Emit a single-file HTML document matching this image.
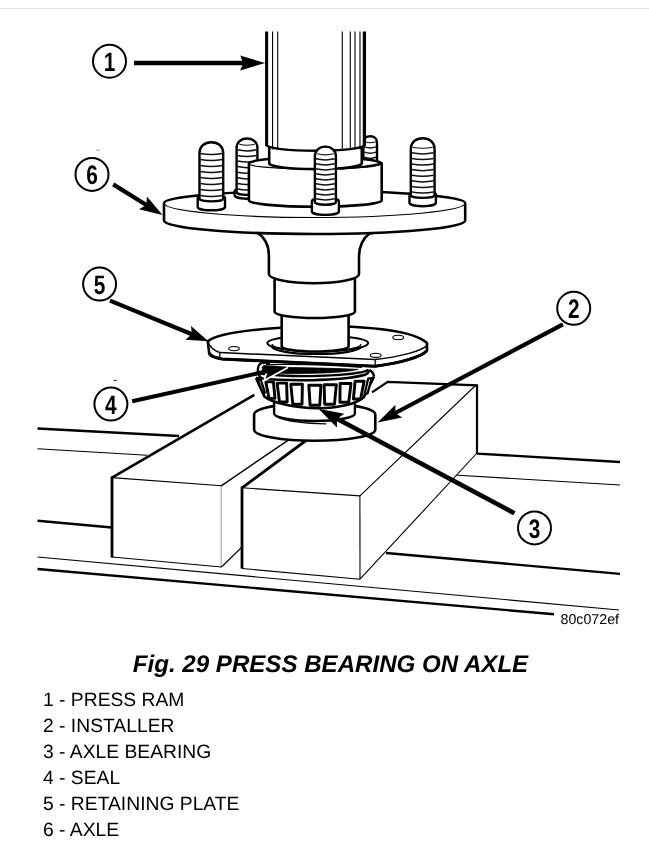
<!DOCTYPE html>
<html lang="en">
<head>
<meta charset="utf-8">
<title>Fig. 29 PRESS BEARING ON AXLE</title>
<style>
html,body{margin:0;padding:0;background:#fff;}
body{width:649px;height:847px;position:relative;overflow:hidden;-webkit-font-smoothing:antialiased;text-rendering:geometricPrecision;font-family:"Liberation Sans",Arial,sans-serif;color:#000;}
.rule{position:absolute;left:0;top:8px;width:649px;height:1px;background:#e2e2e2;}
.title{will-change:transform;position:absolute;left:6px;width:649px;top:651px;text-align:center;font-weight:bold;font-style:italic;font-size:24.1px;line-height:28px;white-space:nowrap;margin:0;}
.legend{will-change:transform;position:absolute;left:43px;top:687.7px;margin:0;padding:0;list-style:none;font-size:19.3px;line-height:25.9px;white-space:nowrap;}
</style>
</head>
<body>
<div class="rule"></div>
<svg width="649" height="640" viewBox="0 0 649 640" style="position:absolute;left:0;top:0;will-change:transform" font-family="Liberation Sans, Arial, sans-serif">
<line x1="37.5" y1="428.5" x2="179" y2="436" stroke="#000" stroke-width="2.4" />
<line x1="37.5" y1="448.8" x2="147" y2="455.3" stroke="#000" stroke-width="1.1" />
<line x1="37.5" y1="520.7" x2="112" y2="527.5" stroke="#000" stroke-width="2.4" />
<line x1="37.5" y1="557" x2="619" y2="610" stroke="#000" stroke-width="1.1" />
<line x1="37.5" y1="569" x2="554" y2="614.2" stroke="#000" stroke-width="2.4" />
<line x1="477" y1="453.6" x2="620" y2="462" stroke="#000" stroke-width="2.4" />
<line x1="454" y1="475" x2="620" y2="485" stroke="#000" stroke-width="1.1" />
<line x1="386" y1="553" x2="620" y2="573.9" stroke="#000" stroke-width="2.4" />
<path d="M112,477.6 L254.3,394.9 L300,400 L221.5,485.8 Z" stroke="none" stroke-width="1" fill="#fff" />
<path d="M112,477.6 L221.5,485.8 L221.5,567 L112,557 Z" stroke="none" stroke-width="1" fill="#fff" />
<path d="M221.5,485.8 L290,425 L290,500 L221.5,567 Z" stroke="none" stroke-width="1" fill="#fff" />
<line x1="112" y1="477.6" x2="254.3" y2="394.9" stroke="#000" stroke-width="2.6" />
<line x1="112" y1="476.5" x2="112" y2="557.5" stroke="#000" stroke-width="2.8" />
<line x1="112" y1="477.6" x2="221.5" y2="485.8" stroke="#000" stroke-width="1.1" />
<line x1="221.2" y1="485.8" x2="221.2" y2="567.4" stroke="#9a9a9a" stroke-width="1" />
<line x1="112" y1="557" x2="221.5" y2="567" stroke="#000" stroke-width="1.1" />
<line x1="221.2" y1="485.8" x2="292" y2="437.6" stroke="#000" stroke-width="1.4" />
<line x1="221.5" y1="567" x2="242" y2="547" stroke="#000" stroke-width="1.1" />
<path d="M242,487.8 L306,440 L387.7,381.8 L477,385.4 L359.9,495.9 Z" stroke="none" stroke-width="1" fill="#fff" />
<path d="M242,487.8 L359.9,495.9 L360,579.2 L241.8,568.5 Z" stroke="none" stroke-width="1" fill="#fff" />
<path d="M359.9,495.9 L477,385.4 L477,453 L360,579.2 Z" stroke="none" stroke-width="1" fill="#fff" />
<line x1="242" y1="486.8" x2="242" y2="568.5" stroke="#000" stroke-width="2.8" />
<line x1="242" y1="487.8" x2="306" y2="440.5" stroke="#000" stroke-width="2.8" />
<line x1="242" y1="487.8" x2="359.9" y2="495.9" stroke="#000" stroke-width="1.1" />
<line x1="359.9" y1="495.9" x2="360" y2="579.2" stroke="#000" stroke-width="1.1" />
<line x1="241.8" y1="568.5" x2="360" y2="579.2" stroke="#000" stroke-width="1.1" />
<line x1="359.9" y1="495.9" x2="475.5" y2="385.5" stroke="#000" stroke-width="1.1" />
<line x1="360" y1="579.2" x2="477" y2="453" stroke="#000" stroke-width="1.1" />
<path d="M372,392.3 L387.7,381.8 L477,385.4 L477,453.6" stroke="#000" stroke-width="2.2" fill="none" />
<path d="M254.1,414.5 L254.1,429.8 A60.6,11 0 0 0 375.3,429.8 L375.3,414.5 A60.6,11.5 0 0 0 254.1,414.5 Z" stroke="#000" stroke-width="2.6" fill="#fff" />
<path d="M277.5,417.2 C285,420.6 303,423.6 326.3,423.8" stroke="#000" stroke-width="1.3" fill="none" />
<path d="M274.1,398 L274.1,413.5 A40.4,7.5 0 0 0 354.9,413.5 L354.9,398 Z" stroke="#000" stroke-width="2.4" fill="#fff" />
<path d="M256,378 L264.5,396.6 C273,403 295,408.3 318,408.3 C338,408.3 356,404 363.8,397.2 L374,376.6 L370,368 L258,368 Z" stroke="none" stroke-width="0" fill="#fff" />
<path d="M256,378 L264.5,396.6 C273,403 295,408.3 318,408.3 C338,408.3 356,404 363.8,397.2 L374,376.6" stroke="#000" stroke-width="2.6" fill="none" />
<path d="M265.8,381.9 L273.4,381.9 L275.0,398.4 L269.0,398.4 Z" stroke="#000" stroke-width="2.9" fill="#fff" stroke-linejoin="round"/>
<path d="M277.1,383.1 L286.6,383.1 L287.2,402 L279.5,402 Z" stroke="#000" stroke-width="2.9" fill="#fff" stroke-linejoin="round"/>
<path d="M290.8,384.3 L302.4,384.3 L302.0,404.2 L292.8,404.2 Z" stroke="#000" stroke-width="2.9" fill="#fff" stroke-linejoin="round"/>
<path d="M308.8,385.3 L320.9,385.3 L319.8,405.2 L310.1,405.2 Z" stroke="#000" stroke-width="2.9" fill="#fff" stroke-linejoin="round"/>
<path d="M324.1,384.8 L336.3,384.8 L334.5,404.2 L324.7,404.2 Z" stroke="#000" stroke-width="2.9" fill="#fff" stroke-linejoin="round"/>
<path d="M340.1,383.5 L351.0,383.5 L348.7,402.2 L339.9,402.2 Z" stroke="#000" stroke-width="2.9" fill="#fff" stroke-linejoin="round"/>
<path d="M355.1,381.2 L364.1,381.2 L360.6,399 L353.4,399 Z" stroke="#000" stroke-width="2.9" fill="#fff" stroke-linejoin="round"/>
<path d="M257.8,380.2 L260.8,379.8 L265,392.6 L263,393.6 Z" stroke="#000" stroke-width="2.2" fill="#fff" stroke-linejoin="round"/>
<path d="M368.2,378.6 L371.6,378.2 L367.6,393.4 L364.6,394.2 Z" stroke="#000" stroke-width="2.2" fill="#fff" stroke-linejoin="round"/>
<path d="M257.4,378.5 C257,372 257,366 259.5,363.5 L268,361 L368,362 C371,366 374.2,372 374.3,375.5 C360,380.3 338,381.6 314,381.4 C290,381.2 268,380.5 257.4,378.5 Z" stroke="none" stroke-width="0" fill="#fff" />
<path d="M262,378.5 C257.2,376 256.6,366.5 260.5,363.6 C263,362 267,362.6 270,363.6" stroke="#000" stroke-width="2.4" fill="none" />
<path d="M262,366.8 C285,367.6 320,367.6 358,369.4 C340,373.6 300,374 263,373 Z" stroke="#000" stroke-width="0.8" fill="#000" />
<path d="M266,364.6 C295,364.2 335,365 362,367.4" stroke="#000" stroke-width="1.2" fill="none" />
<path d="M259,373.5 C285,376.8 335,377.4 362,372.2 C365,371.4 367,370.6 368.5,369.6" stroke="#000" stroke-width="2.3" fill="none" />
<path d="M256,378 C285,381.2 340,381.6 365,374.8 C367.5,373.6 369,372 369.6,370.2" stroke="#000" stroke-width="2.5" fill="none" />
<path d="M369.4,369.8 C372,371.5 373.8,374 374,376.6" stroke="#000" stroke-width="2.4" fill="none" />
<path d="M207.8,341.5 C215,334 250,328.5 313,326 C380,326 415,332 427,343 L427,350.3 C422,357 400,363 375.2,366.3 L222,359 C214,357.5 209.5,355.5 209.2,353.5 Z" stroke="#000" stroke-width="2.6" fill="#fff" />
<path d="M207.8,342 C210,347 214,350.8 220,352.6 L375.2,359.4 C400,357 421,351 427,345.6" stroke="#000" stroke-width="1.5" fill="none" />
<line x1="375.2" y1="359.4" x2="375.2" y2="366.3" stroke="#000" stroke-width="1.3" />
<line x1="219.8" y1="352.8" x2="219.8" y2="358.4" stroke="#000" stroke-width="1.3" />
<path d="M209.4,353 C210.5,355.8 215,357.8 222,359 L375.2,366.3 C400,363 422,357 427,350.6" stroke="#000" stroke-width="3.1" fill="none" />
<path d="M267.3,343 A50.4,8.5 0 0 0 368.2,343 A50.4,7.5 0 0 0 267.3,343 Z" stroke="#000" stroke-width="2" fill="#fff" />
<path d="M272,344 A44.5,7.5 0 0 0 361,344" stroke="#000" stroke-width="1.3" fill="none" />
<path d="M272,346.5 A44.5,7.5 0 0 0 361,346.5" stroke="#000" stroke-width="2.2" fill="none" />
<ellipse cx="234" cy="348.6" rx="5.3" ry="2.1" fill="#fff" stroke="#000" stroke-width="1.1"/>
<ellipse cx="398.2" cy="337.4" rx="5.4" ry="2.1" fill="#fff" stroke="#000" stroke-width="1.1"/>
<ellipse cx="375.7" cy="355.3" rx="5.4" ry="2.1" fill="#fff" stroke="#000" stroke-width="1.1"/>
<path d="M281.7,314 L281.7,346.3 A33.5,5.5 0 0 0 348.6,346.3 L348.6,314 Z" stroke="#000" stroke-width="2.6" fill="#fff" />
<path d="M274.6,276 L274.6,311.8 A40.2,6.5 0 0 0 354.9,311.8 L354.9,276 Z" stroke="#000" stroke-width="2.6" fill="#fff" />
<path d="M200,225 L257,232.5 C264.5,237 268.9,245 268.9,256 L268.9,274 A45,9.3 0 0 0 359,274 L359,257 C359,247 362,239 369.5,233.5 L430,225 Z" stroke="#000" stroke-width="2.6" fill="#fff" />
<path d="M164.00000000000003,203 A150.6,12 0 0 1 465.20000000000005,203 L465.20000000000005,220.5 A150.6,13.5 0 0 1 164.00000000000003,220.5 Z" stroke="none" stroke-width="0" fill="#fff" />
<path d="M164.00000000000003,203 L164.00000000000003,220.5 A150.6,13.5 0 0 0 465.20000000000005,220.5 L465.20000000000005,203" stroke="#000" stroke-width="2.6" fill="none" />
<path d="M164.00000000000003,203 A150.6,12 0 0 1 465.20000000000005,203" stroke="#000" stroke-width="2.4" fill="none" />
<path d="M164.00000000000003,203 A150.6,14.5 0 0 0 465.20000000000005,203" stroke="#000" stroke-width="1.2" fill="none" />
<g>
<path d="M234.6,191.5 L234.6,195.29999999999998 A12.399999999999991,3.4 0 0 0 259.4,195.29999999999998 L259.4,191.5 A12.399999999999991,3.4 0 0 0 234.6,191.5 Z" stroke="#000" stroke-width="2.4" fill="#fff" />
<path d="M236.6,192.5 L236.6,147.85999999999999 C236.6,142.4 241.0,138.5 247.0,138.5 C253.0,138.5 257.4,142.4 257.4,147.85999999999999 L257.4,192.5 A10.399999999999991,2.4 0 0 1 236.6,192.5 Z" stroke="#000" stroke-width="2.4" fill="#fff" />
<path d="M237.6,189.0 Q247.0,191.2 256.4,189.0" stroke="#111" stroke-width="1.5" fill="none" />
<path d="M237.6,183.4 Q247.0,185.6 256.4,183.4" stroke="#111" stroke-width="1.5" fill="none" />
<path d="M237.6,177.8 Q247.0,180.0 256.4,177.8" stroke="#111" stroke-width="1.5" fill="none" />
<path d="M237.6,172.2 Q247.0,174.4 256.4,172.2" stroke="#111" stroke-width="1.5" fill="none" />
<path d="M237.6,166.6 Q247.0,168.8 256.4,166.6" stroke="#111" stroke-width="1.5" fill="none" />
<path d="M237.6,161.0 Q247.0,163.2 256.4,161.0" stroke="#111" stroke-width="1.5" fill="none" />
<path d="M237.6,155.4 Q247.0,157.6 256.4,155.4" stroke="#111" stroke-width="1.5" fill="none" />
<path d="M237.6,149.8 Q247.0,152.0 256.4,149.8" stroke="#111" stroke-width="1.5" fill="none" />
<path d="M239.4,144.2 Q247.0,146.4 254.6,144.2" stroke="#111" stroke-width="1.1" fill="none" />
</g>
<g>
<path d="M361.9,191 L361.9,193.6 A8.300000000000011,3.4 0 0 0 378.5,193.6 L378.5,191 A8.300000000000011,3.4 0 0 0 361.9,191 Z" stroke="#000" stroke-width="2.4" fill="#fff" />
<path d="M363.4,192 L363.4,142.32 C363.4,138.8 366.3,136.2 370.2,136.2 C374.1,136.2 377,138.8 377,142.32 L377,192 A6.800000000000011,2.4 0 0 1 363.4,192 Z" stroke="#000" stroke-width="2.4" fill="#fff" />
<path d="M364.4,188.5 Q370.2,190.7 376.0,188.5" stroke="#111" stroke-width="1.5" fill="none" />
<path d="M364.4,183.3 Q370.2,185.5 376.0,183.3" stroke="#111" stroke-width="1.5" fill="none" />
<path d="M364.4,178.1 Q370.2,180.3 376.0,178.1" stroke="#111" stroke-width="1.5" fill="none" />
<path d="M364.4,172.9 Q370.2,175.1 376.0,172.9" stroke="#111" stroke-width="1.5" fill="none" />
<path d="M364.4,167.7 Q370.2,169.9 376.0,167.7" stroke="#111" stroke-width="1.5" fill="none" />
<path d="M364.4,162.5 Q370.2,164.7 376.0,162.5" stroke="#111" stroke-width="1.5" fill="none" />
<path d="M364.4,157.3 Q370.2,159.5 376.0,157.3" stroke="#111" stroke-width="1.5" fill="none" />
<path d="M364.4,152.1 Q370.2,154.3 376.0,152.1" stroke="#111" stroke-width="1.5" fill="none" />
<path d="M364.4,146.9 Q370.2,149.1 376.0,146.9" stroke="#111" stroke-width="1.5" fill="none" />
<path d="M364.7,141.7 Q370.2,143.9 375.7,141.7" stroke="#111" stroke-width="1.1" fill="none" />
</g>
<path d="M248.9,163.5 L248.9,200.4 A66.39999999999999,6.3 0 0 0 381.7,200.4 L381.7,163.5 A66.39999999999999,6.3 0 0 0 248.9,163.5 Z" stroke="#000" stroke-width="2.6" fill="#fff" />
<path d="M248.9,163.5 A66.39999999999999,5.6 0 0 0 381.7,163.5" stroke="#000" stroke-width="1.3" fill="none" />
<path d="M340,168.7 Q366,167.2 381.7,163.5" stroke="#000" stroke-width="2.2" fill="none" />
<path d="M269.2,140 L269.2,163.4 A46.3,5.7 0 0 0 361.8,163.4 L361.8,140 Z" stroke="#000" stroke-width="2.6" fill="#fff" />
<path d="M266.6,31 L266.6,145 A48.9,5.8 0 0 0 364.4,145 L364.4,31 Z" stroke="none" stroke-width="0" fill="#fff" />
<path d="M266.6,145 A48.9,5.8 0 0 0 364.4,145" stroke="#000" stroke-width="2.4" fill="none" />
<line x1="266.6" y1="31.5" x2="266.6" y2="146" stroke="#000" stroke-width="3.1" />
<line x1="364.4" y1="31.5" x2="364.4" y2="146" stroke="#000" stroke-width="3.3" />
<line x1="272.6" y1="31.5" x2="272.6" y2="149.5" stroke="#000" stroke-width="1.1" />
<line x1="277.7" y1="31.5" x2="277.7" y2="149.5" stroke="#000" stroke-width="1.1" />
<line x1="342.3" y1="31.5" x2="342.3" y2="149.5" stroke="#000" stroke-width="1.1" />
<line x1="350.3" y1="31.5" x2="350.3" y2="149.5" stroke="#000" stroke-width="1.1" />
<line x1="355" y1="31.5" x2="355" y2="149.5" stroke="#000" stroke-width="1.1" />
<line x1="360" y1="31.5" x2="360" y2="149.5" stroke="#000" stroke-width="1.1" />
<g>
<path d="M197.7,198 L197.7,206.9 A13.650000000000006,3.4 0 0 0 225.0,206.9 L225.0,198 A13.650000000000006,3.4 0 0 0 197.7,198 Z" stroke="#000" stroke-width="2.4" fill="#fff" />
<path d="M199.5,199 L199.5,152.86499999999998 C199.5,146.7 204.5,142.2 211.35,142.2 C218.2,142.2 223.2,146.7 223.2,152.86499999999998 L223.2,199 A11.849999999999994,2.4 0 0 1 199.5,199 Z" stroke="#000" stroke-width="2.4" fill="#fff" />
<path d="M200.5,195.5 Q211.35,197.7 222.2,195.5" stroke="#111" stroke-width="1.5" fill="none" />
<path d="M200.5,189.5 Q211.35,191.7 222.2,189.5" stroke="#111" stroke-width="1.5" fill="none" />
<path d="M200.5,183.5 Q211.35,185.7 222.2,183.5" stroke="#111" stroke-width="1.5" fill="none" />
<path d="M200.5,177.5 Q211.35,179.7 222.2,177.5" stroke="#111" stroke-width="1.5" fill="none" />
<path d="M200.5,171.5 Q211.35,173.7 222.2,171.5" stroke="#111" stroke-width="1.5" fill="none" />
<path d="M200.5,165.5 Q211.35,167.7 222.2,165.5" stroke="#111" stroke-width="1.5" fill="none" />
<path d="M200.5,159.5 Q211.35,161.7 222.2,159.5" stroke="#111" stroke-width="1.5" fill="none" />
<path d="M200.5,153.5 Q211.35,155.7 222.2,153.5" stroke="#111" stroke-width="1.5" fill="none" />
</g>
<g>
<path d="M311.9,201.3 L311.9,211.5 A13.5,3.4 0 0 0 338.9,211.5 L338.9,201.3 A13.5,3.4 0 0 0 311.9,201.3 Z" stroke="#000" stroke-width="2.4" fill="#fff" />
<path d="M314.9,202.3 L314.9,156.04999999999998 C314.9,150.6 319.3,146.6 325.4,146.6 C331.5,146.6 335.9,150.6 335.9,156.04999999999998 L335.9,202.3 A10.5,2.4 0 0 1 314.9,202.3 Z" stroke="#000" stroke-width="2.4" fill="#fff" />
<path d="M315.9,198.8 Q325.4,201.0 334.9,198.8" stroke="#111" stroke-width="1.5" fill="none" />
<path d="M315.9,193.8 Q325.4,196.0 334.9,193.8" stroke="#111" stroke-width="1.5" fill="none" />
<path d="M315.9,188.8 Q325.4,191.0 334.9,188.8" stroke="#111" stroke-width="1.5" fill="none" />
<path d="M315.9,183.8 Q325.4,186.0 334.9,183.8" stroke="#111" stroke-width="1.5" fill="none" />
<path d="M315.9,178.8 Q325.4,181.0 334.9,178.8" stroke="#111" stroke-width="1.5" fill="none" />
<path d="M315.9,173.8 Q325.4,176.0 334.9,173.8" stroke="#111" stroke-width="1.5" fill="none" />
<path d="M315.9,168.8 Q325.4,171.0 334.9,168.8" stroke="#111" stroke-width="1.5" fill="none" />
<path d="M315.9,163.8 Q325.4,166.0 334.9,163.8" stroke="#111" stroke-width="1.5" fill="none" />
<path d="M315.9,158.8 Q325.4,161.0 334.9,158.8" stroke="#111" stroke-width="1.5" fill="none" />
<path d="M317.0,153.8 Q325.4,156.0 333.8,153.8" stroke="#111" stroke-width="1.1" fill="none" />
</g>
<g>
<path d="M409.5,194.5 L409.5,202.79999999999998 A13.200000000000017,3.4 0 0 0 435.90000000000003,202.79999999999998 L435.90000000000003,194.5 A13.200000000000017,3.4 0 0 0 409.5,194.5 Z" stroke="#000" stroke-width="2.4" fill="#fff" />
<path d="M410.8,195.5 L410.8,148.91 C410.8,142.7 415.8,138.2 422.70000000000005,138.2 C429.6,138.2 434.6,142.7 434.6,148.91 L434.6,195.5 A11.900000000000006,2.4 0 0 1 410.8,195.5 Z" stroke="#000" stroke-width="2.4" fill="#fff" />
<path d="M411.8,192.0 Q422.70000000000005,194.2 433.6,192.0" stroke="#111" stroke-width="1.5" fill="none" />
<path d="M411.8,186.4 Q422.70000000000005,188.6 433.6,186.4" stroke="#111" stroke-width="1.5" fill="none" />
<path d="M411.8,180.8 Q422.70000000000005,183.0 433.6,180.8" stroke="#111" stroke-width="1.5" fill="none" />
<path d="M411.8,175.2 Q422.70000000000005,177.4 433.6,175.2" stroke="#111" stroke-width="1.5" fill="none" />
<path d="M411.8,169.6 Q422.70000000000005,171.8 433.6,169.6" stroke="#111" stroke-width="1.5" fill="none" />
<path d="M411.8,164.0 Q422.70000000000005,166.2 433.6,164.0" stroke="#111" stroke-width="1.5" fill="none" />
<path d="M411.8,158.4 Q422.70000000000005,160.6 433.6,158.4" stroke="#111" stroke-width="1.5" fill="none" />
<path d="M411.8,152.8 Q422.70000000000005,155.0 433.6,152.8" stroke="#111" stroke-width="1.5" fill="none" />
<path d="M412.7,147.2 Q422.70000000000005,149.4 432.7,147.2" stroke="#111" stroke-width="1.1" fill="none" />
</g>
<line x1="134" y1="63" x2="243.2" y2="63.0" stroke="#000" stroke-width="4.4" />
<polygon points="265.2,63.0 240.2,70.4 243.2,63.0 240.2,55.6" fill="#000"/>
<line x1="113.2" y1="184.4" x2="146.4" y2="205.0" stroke="#000" stroke-width="4.2" />
<polygon points="162.5,215.0 139.0,209.2 146.4,205.0 146.9,196.5" fill="#000"/>
<line x1="110" y1="300.6" x2="191.9" y2="334.3" stroke="#000" stroke-width="4.2" />
<polygon points="208.5,341.2 185.3,339.8 191.9,334.3 191.0,325.9" fill="#000"/>
<polyline points="287.5,366.7 265.6,378.8 268.0,371.0" fill="none" stroke="#fff" stroke-width="3.6" stroke-linejoin="miter"/>
<line x1="132.2" y1="401.3" x2="268.0" y2="371.0" stroke="#000" stroke-width="4.0" />
<polygon points="287.5,366.7 265.6,378.8 268.0,371.0 262.6,365.1" fill="#000"/>
<line x1="562.9" y1="324.4" x2="395.3" y2="413.0" stroke="#000" stroke-width="4.2" />
<polygon points="377.6,422.4 395.4,404.8 395.3,413.0 402.2,417.6" fill="#000"/>
<line x1="514.4" y1="513.2" x2="337.0" y2="418.7" stroke="#000" stroke-width="4.6" />
<polygon points="318.5,408.8 344.2,413.7 337.0,418.7 336.9,427.4" fill="#000"/>
<circle cx="109.5" cy="61.2" r="16.5" fill="#fff" stroke="#000" stroke-width="2"/>
<text x="0" y="0" transform="translate(109.5,71.1) scale(0.78,1)" text-anchor="middle" font-size="26.7" font-weight="bold" fill="#000">1</text>
<circle cx="573.7" cy="308.3" r="16.5" fill="#fff" stroke="#000" stroke-width="2"/>
<text x="0" y="0" transform="translate(573.7,318.2) scale(0.78,1)" text-anchor="middle" font-size="26.7" font-weight="bold" fill="#000">2</text>
<circle cx="534.5" cy="527.9" r="16.5" fill="#fff" stroke="#000" stroke-width="2"/>
<text x="0" y="0" transform="translate(534.5,537.8) scale(0.78,1)" text-anchor="middle" font-size="26.7" font-weight="bold" fill="#000">3</text>
<circle cx="110.9" cy="404.1" r="16.5" fill="#fff" stroke="#000" stroke-width="2"/>
<text x="0" y="0" transform="translate(110.9,414.0) scale(0.78,1)" text-anchor="middle" font-size="26.7" font-weight="bold" fill="#000">4</text>
<circle cx="99.6" cy="284.1" r="16.5" fill="#fff" stroke="#000" stroke-width="2"/>
<text x="0" y="0" transform="translate(99.6,294.0) scale(0.78,1)" text-anchor="middle" font-size="26.7" font-weight="bold" fill="#000">5</text>
<circle cx="92" cy="174.4" r="16.5" fill="#fff" stroke="#000" stroke-width="2"/>
<text x="0" y="0" transform="translate(92,184.3) scale(0.78,1)" text-anchor="middle" font-size="26.7" font-weight="bold" fill="#000">6</text>
<line x1="96.2" y1="150.2" x2="99.8" y2="150.2" stroke="#999" stroke-width="1" />
<line x1="113.6" y1="380.4" x2="117" y2="380.4" stroke="#333" stroke-width="1" />
<text x="560.6" y="623.6" font-size="14.2" fill="#000">80c072ef</text>
</svg>
<p class="title">Fig. 29 PRESS BEARING ON AXLE</p>
<ul class="legend">
<li>1 - PRESS RAM</li>
<li>2 - INSTALLER</li>
<li>3 - AXLE BEARING</li>
<li>4 - SEAL</li>
<li>5 - RETAINING PLATE</li>
<li>6 - AXLE</li>
</ul>
</body>
</html>
